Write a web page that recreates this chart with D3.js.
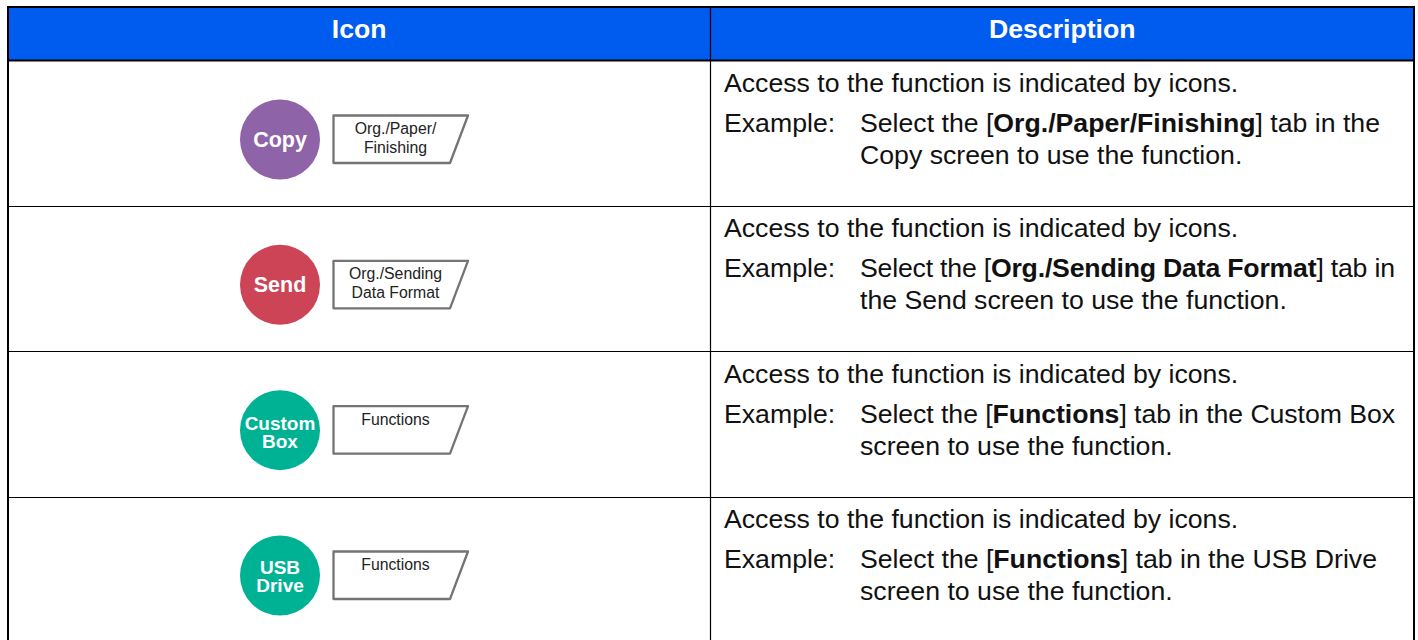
<!DOCTYPE html>
<html>
<head>
<meta charset="utf-8">
<script src="https://cdnjs.cloudflare.com/ajax/libs/d3/7.8.5/d3.min.js"></script>
<style>
  html, body { margin: 0; padding: 0; background: #fff; overflow: hidden; }
  svg { display: block; font-family: "Liberation Sans", Arial, sans-serif; }
</style>
</head>
<body>
<div id="chart"></div>
<script>
const headers = ['Icon', 'Description']
const iconLabels = [['Copy'], ['Send'], ['Custom', 'Box'], ['USB', 'Drive']]
const iconColors = ['#8e63a8', '#cc4455', '#00b294', '#00b294']
const tabLabels = [['Org./Paper/', 'Finishing'], ['Org./Sending', 'Data Format'], ['Functions'], ['Functions']]
const accessText = 'Access to the function is indicated by icons.'
const exampleLabel = 'Example:'
const tabNames = ['Org./Paper/Finishing', 'Org./Sending Data Format', 'Functions', 'Functions']
const afterTab = ['] tab in the', '] tab in', '] tab in the Custom Box', '] tab in the USB Drive']
const secondLines = ['Copy screen to use the function.', 'the Send screen to use the function.', 'screen to use the function.', 'screen to use the function.']

const width = 1418, height = 640
const headerBlue = '#005bef'
const tableLeft = 8, tableRight = 1414, tableTop = 7, headerBottom = 60.5, colSplit = 710.5
const bodySize = '26.67px'

const svg = d3.select('#chart').append('svg').attr('width', width).attr('height', height)

// Row positions
const rowY = d3.scaleLinear().domain([0, 3]).range([61, 497])

// Header band
svg.append('rect').attr('x', tableLeft).attr('y', tableTop)
  .attr('width', tableRight - tableLeft).attr('height', headerBottom - tableTop).attr('fill', headerBlue)

svg.selectAll('text.header').data(headers).join('text')
  .attr('class', 'header')
  .attr('x', (d, i) => i === 0 ? (tableLeft + colSplit) / 2 : (colSplit + tableRight) / 2)
  .attr('y', 38)
  .attr('text-anchor', 'middle').attr('fill', '#fff')
  .style('font-size', bodySize).style('font-weight', '700')
  .text(d => d)

// Rows
const rows = svg.selectAll('g.row').data(iconLabels).join('g')
  .attr('class', 'row')
  .attr('transform', (d, i) => `translate(0,${rowY(i)})`)

// Icon circle
rows.append('circle').attr('cx', 280).attr('cy', 78.5).attr('r', 40)
  .attr('fill', (d, i) => iconColors[i])

rows.each(function (lines, i) {
  const g = d3.select(this)
  // two-line labels sit a little differently in each row of the original
  const firstBaseline = lines.length === 1 ? 86 : (i === 2 ? 78.5 : 76.5)
  lines.forEach((line, k) => {
    g.append('text')
      .attr('x', 280)
      .attr('y', firstBaseline + k * 18)
      .attr('text-anchor', 'middle').attr('fill', '#fff')
      .style('font-size', lines.length === 1 ? '21.5px' : '19px').style('font-weight', '700')
      .text(line)
  })

  // Tab shape
  const tabPath = d3.line()([[333.5, 54.5], [468, 54.5], [450, 102], [333.5, 102]]) + 'Z'
  g.append('path').attr('d', tabPath)
    .attr('fill', '#fff').attr('stroke', '#747474').attr('stroke-width', 2.3).attr('stroke-linejoin', 'round')

  tabLabels[i].forEach((line, k) => {
    g.append('text')
      .attr('x', 395.5)
      .attr('y', 73 + k * 19)
      .attr('text-anchor', 'middle').attr('fill', '#222')
      .style('font-size', '15.8px')
      .text(line)
  })

  // Description
  g.append('text').attr('x', 724).attr('y', 31).attr('fill', '#111').style('font-size', bodySize).text(accessText)
  g.append('text').attr('x', 724).attr('y', 71).attr('fill', '#111').style('font-size', bodySize).text(exampleLabel)
  // the original sets these lines tighter than the bare font metrics, so fit them
  const exampleWidth = [520, 535, 535, 517][i]
  const ex = g.append('text').attr('x', 860).attr('y', 71).attr('fill', '#111').style('font-size', bodySize)
    .attr('textLength', exampleWidth).attr('lengthAdjust', 'spacing')
  ex.append('tspan').text('Select the [')
  ex.append('tspan').style('font-weight', '700').text(tabNames[i])
  ex.append('tspan').text(afterTab[i])
  g.append('text').attr('x', 860).attr('y', 103).attr('fill', '#111').style('font-size', bodySize).text(secondLines[i])
})

// Grid lines
svg.selectAll('line.rule').data(d3.range(1, 4)).join('line')
  .attr('class', 'rule')
  .attr('x1', tableLeft).attr('x2', tableRight)
  .attr('y1', d => Math.floor(rowY(d)) + 0.5).attr('y2', d => Math.floor(rowY(d)) + 0.5)
  .attr('stroke', '#000').attr('stroke-width', 1)

svg.append('line').attr('x1', colSplit).attr('x2', colSplit).attr('y1', tableTop).attr('y2', height)
  .attr('stroke', '#000').attr('stroke-width', 1.2)
svg.append('line').attr('x1', tableLeft).attr('x2', tableRight).attr('y1', headerBottom).attr('y2', headerBottom)
  .attr('stroke', '#000').attr('stroke-width', 2)

// Outer border, open at the bottom where the page cuts it
svg.append('path').attr('d', `M${tableLeft},${height}V${tableTop}H${tableRight}V${height}`)
  .attr('fill', 'none').attr('stroke', '#000').attr('stroke-width', 2)
</script>
</body>
</html>
